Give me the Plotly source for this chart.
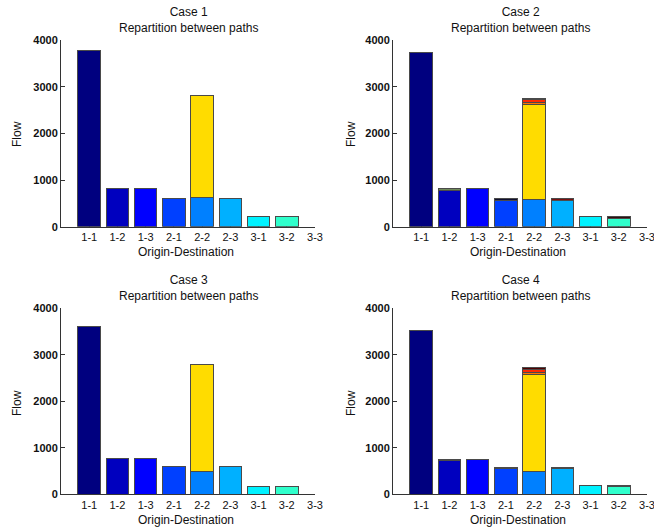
import plotly.graph_objects as go

categories = ["1-1", "1-2", "1-3", "2-1", "2-2", "2-3", "3-1", "3-2", "3-3"]

# Case 1 (flow per path, stacked)
case1_path1 = [3770, 810, 810, 600, 620, 600, 210, 210, 0]
case1_path2 = [0, 0, 0, 0, 2190, 0, 0, 0, 0]

# Case 2
case2_path1 = [3740, 780, 810, 570, 590, 570, 210, 185, 0]
case2_path2 = [0, 35, 0, 30, 2030, 30, 0, 25, 0]
case2_path3 = [0, 0, 0, 0, 45, 0, 0, 0, 0]
case2_path4 = [0, 0, 0, 0, 60, 0, 0, 0, 0]
case2_path5 = [0, 0, 0, 0, 25, 0, 0, 0, 0]

# Case 3
case3_path1 = [3610, 780, 780, 600, 500, 600, 175, 175, 0]
case3_path2 = [0, 0, 0, 0, 2300, 0, 0, 0, 0]

# Case 4
case4_path1 = [3520, 720, 750, 550, 500, 545, 195, 170, 0]
case4_path2 = [0, 35, 0, 30, 2080, 30, 0, 25, 0]
case4_path3 = [0, 0, 0, 0, 45, 0, 0, 0, 0]
case4_path4 = [0, 0, 0, 0, 65, 0, 0, 0, 0]
case4_path5 = [0, 0, 0, 0, 30, 0, 0, 0, 0]

titles = ["Case 1", "Case 2", "Case 3", "Case 4"]

# ---- styles ----
base_colors = ["#00007f", "#0000bf", "#0000ff", "#0040ff", "#0080ff",
               "#00b0ff", "#00f2ff", "#30ffcc", "#80ff80"]
second_colors_c2 = ["#000000", "#6f8a5a", "#000000", "#101030", "#ffdc00",
                    "#7a1010", "#000000", "#301010", "#000000"]
second_colors_c4 = ["#000000", "#7fb020", "#000000", "#88a820", "#ffdc00",
                    "#8a1010", "#000000", "#401010", "#000000"]
second_colors_c13 = ["#ffdc00"] * 9
third_color = "#ff7000"
fourth_color = "#ff2800"
fifth_color = "#500000"

FONT = "Liberation Sans, Arial, Helvetica, sans-serif"
EDGE = dict(color="#4a4a4a", width=1)

cases = [
    ([case1_path1, case1_path2], [base_colors, second_colors_c13]),
    ([case2_path1, case2_path2, case2_path3, case2_path4, case2_path5],
     [base_colors, second_colors_c2, [third_color] * 9, [fourth_color] * 9, [fifth_color] * 9]),
    ([case3_path1, case3_path2], [base_colors, second_colors_c13]),
    ([case4_path1, case4_path2, case4_path3, case4_path4, case4_path5],
     [base_colors, second_colors_c4, [third_color] * 9, [fourth_color] * 9, [fifth_color] * 9]),
]

W, H = 654, 531
xdoms = [[61 / W, 315 / W], [393 / W, 647 / W]]
ydoms = [[1 - 226.7 / H, 1 - 40 / H], [1 - 494.3 / H, 1 - 308.3 / H]]

fig = go.Figure()
layout = dict(
    width=W, height=H, template="none",
    margin=dict(l=0, r=0, t=0, b=0),
    paper_bgcolor="white", plot_bgcolor="white",
    barmode="stack", showlegend=False,
    font=dict(family=FONT, size=11, color="#111"),
)
annotations = []

for i, (paths, colors) in enumerate(cases):
    col = i % 2
    row = i // 2
    ax = "" if i == 0 else str(i + 1)
    for vals, cols in zip(paths, colors):
        fig.add_trace(go.Bar(
            x=categories,
            y=[v if v else None for v in vals],
            marker=dict(color=cols, line=EDGE),
            width=0.8,
            xaxis="x" + ax, yaxis="y" + ax,
            hoverinfo="x+y",
        ))
    layout["xaxis" + ax] = dict(
        domain=xdoms[col], anchor="y" + ax,
        type="category", range=[-1, 8],
        showline=True, linecolor="#333", linewidth=1,
        ticks="inside", ticklen=4, tickcolor="#333",
        showgrid=False, zeroline=False, automargin=False,
        tickfont=dict(family=FONT, size=11, color="#111"),
        layer="below traces",
    )
    layout["yaxis" + ax] = dict(
        domain=ydoms[row], anchor="x" + ax,
        range=[0, 4000], tickvals=[0, 1000, 2000, 3000, 4000],
        showline=True, linecolor="#333", linewidth=1,
        ticks="inside", ticklen=4, tickcolor="#333",
        showgrid=False, zeroline=False, automargin=False,
        tickfont=dict(family=FONT, size=11, color="#111", weight="bold"),
        layer="below traces",
    )
    xc = (xdoms[col][0] + xdoms[col][1]) / 2
    ytop_px = 20 if row == 0 else 288
    annotations.append(dict(
        text=titles[i] + "<br>Repartition between paths",
        xref="paper", yref="paper", x=xc, y=1 - ytop_px / H,
        xanchor="center", yanchor="middle", showarrow=False,
        font=dict(family=FONT, size=12, color="#111"),
    ))
    xlab_px = 252 if row == 0 else 520
    annotations.append(dict(
        text="Origin-Destination",
        xref="paper", yref="paper", x=xc - 2 / W, y=1 - xlab_px / H,
        xanchor="center", yanchor="middle", showarrow=False,
        font=dict(family=FONT, size=12, color="#111"),
    ))
    flow_x = 17 if col == 0 else 351
    flow_y = 134 if row == 0 else 403
    annotations.append(dict(
        text="Flow", textangle=-90,
        xref="paper", yref="paper", x=flow_x / W, y=1 - flow_y / H,
        xanchor="center", yanchor="middle", showarrow=False,
        font=dict(family=FONT, size=12, color="#111"),
    ))

layout["annotations"] = annotations
fig.update_layout(**layout)
fig.write_html("out.html")
